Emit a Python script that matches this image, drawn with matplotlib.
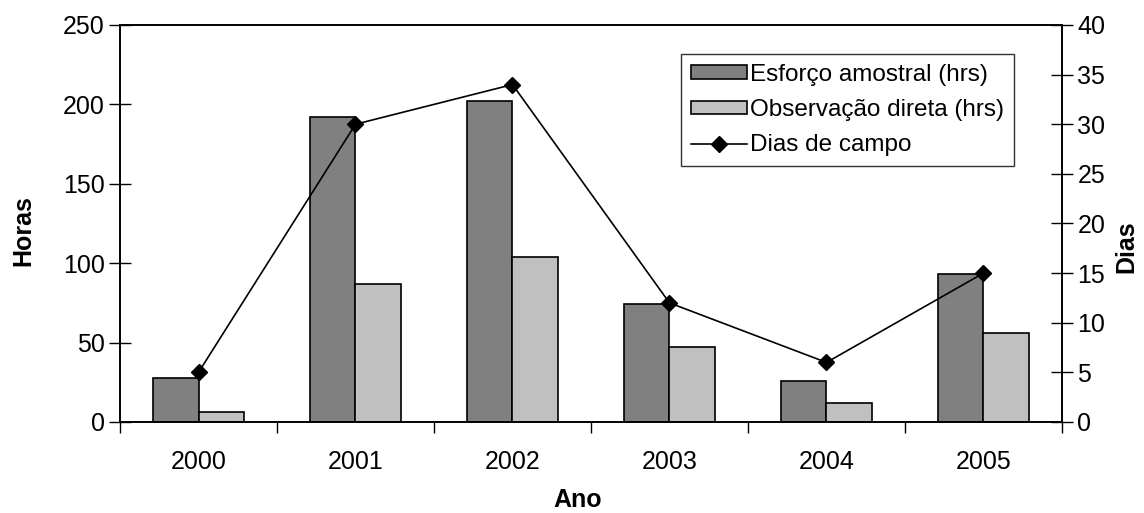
import numpy as np
import matplotlib.pyplot as plt
from matplotlib.patches import Patch
from matplotlib.lines import Line2D

plt.rcParams['font.family'] = ['Liberation Sans', 'DejaVu Sans']

# --- DATA ---
anos = ['2000', '2001', '2002', '2003', '2004', '2005']
esforco = [28, 192, 202, 74, 26, 93]       # Esforço amostral (hrs)
observacao = [6, 87, 104, 47, 12, 56]      # Observação direta (hrs)
dias = [5, 30, 34, 12, 6, 15]              # Dias de campo

DARK = '#808080'
LIGHT = '#c0c0c0'
FS = 18

fig = plt.figure(figsize=(11.44, 5.13), dpi=100)
ax = fig.add_axes([0.1049, 0.1774, 0.8234, 0.7739])
ax2 = ax.twinx()

x = np.arange(len(anos))
w = 0.287
ax.bar(x - w / 2, esforco, w, color=DARK, edgecolor='black', linewidth=1.2, zorder=2)
ax.bar(x + w / 2, observacao, w, color=LIGHT, edgecolor='black', linewidth=1.2, zorder=2)
ax2.plot(x, dias, color='black', lw=1.2, marker='D', markersize=8, zorder=3)

ax.set_xlim(-0.5, len(anos) - 0.5)
ax.set_ylim(0, 250)
ax2.set_ylim(0, 40)
ax.set_yticks(np.arange(0, 251, 50))
ax2.set_yticks(np.arange(0, 41, 5))

# category ticks at boundaries, labels centered
ax.set_xticks(np.arange(-0.5, len(anos), 1.0))
ax.set_xticklabels([])
ax.set_xticks(x, minor=True)
ax.set_xticklabels(anos, minor=True)
ax.tick_params(axis='x', which='major', direction='out', length=8, width=1)
ax.tick_params(axis='x', which='minor', length=0, pad=20, labelsize=FS)
ax.tick_params(axis='y', direction='inout', length=16, width=1, labelsize=FS, pad=3)
ax2.tick_params(axis='y', direction='inout', length=16, width=1, labelsize=FS, pad=3)

for a in (ax, ax2):
    for s in a.spines.values():
        s.set_linewidth(1.2)

fig.text(0.020, 0.55, 'Horas', rotation=90, fontsize=FS, fontweight='bold',
         ha='center', va='center')
fig.text(0.985, 0.52, 'Dias', rotation=90, fontsize=FS, fontweight='bold',
         ha='center', va='center')
fig.text(0.505, 0.025, 'Ano', fontsize=FS, fontweight='bold',
         ha='center', va='center')

handles = [
    Patch(facecolor=DARK, edgecolor='black', linewidth=1.2),
    Patch(facecolor=LIGHT, edgecolor='black', linewidth=1.2),
    Line2D([0], [0], color='black', lw=1.2, marker='D', markersize=8),
]
labels = ['Esforço amostral (hrs)', 'Observação direta (hrs)', 'Dias de campo']
leg = ax2.legend(handles, labels, loc='upper left', bbox_to_anchor=(0.5955, 0.927),
                 fontsize=17.5, frameon=True, fancybox=False, edgecolor='black',
                 handlelength=2.3, handleheight=0.45, handletextpad=0.15,
                 labelspacing=0.55, borderpad=0.4, borderaxespad=0)
leg.get_frame().set_linewidth(1.0)

fig.savefig('out.png', dpi=100)
